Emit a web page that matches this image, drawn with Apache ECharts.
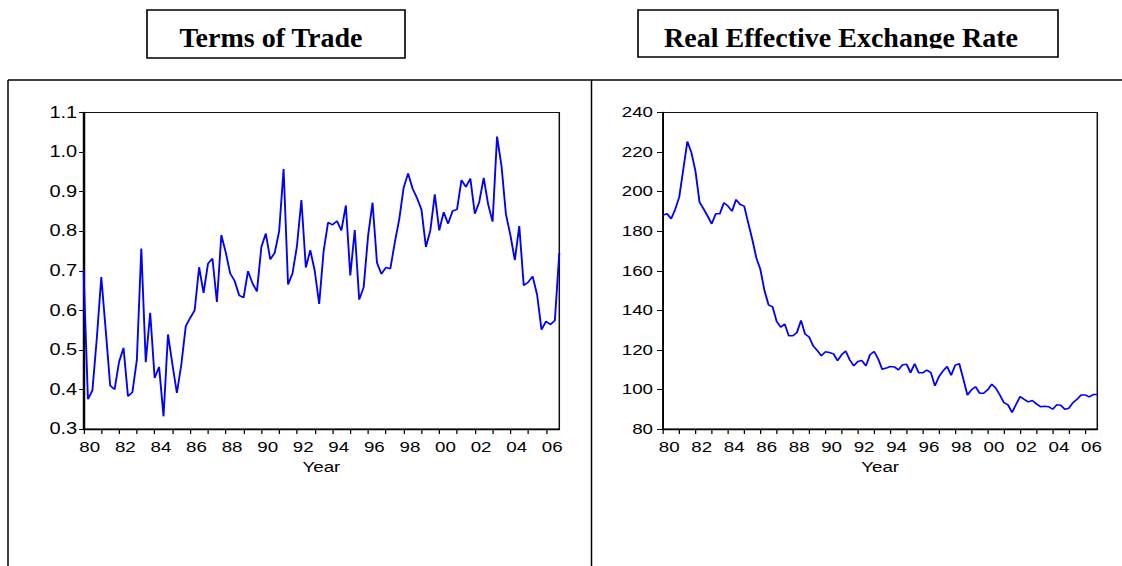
<!DOCTYPE html>
<html>
<head>
<meta charset="utf-8">
<script src="https://cdn.jsdelivr.net/npm/echarts@6/dist/echarts.min.js"></script>
<style>
  html, body { margin: 0; padding: 0; background: #fff; overflow: hidden; }
  #wrap { width: 1122px; height: 566px; overflow: hidden; position: relative; }
  #chart { position: absolute; left: 0; top: 0; height: 566px; transform-origin: 0 0; }
</style>
</head>
<body>
<div id="wrap"><div id="chart"></div></div>
<script>
// Quarterly series, 1980Q1 - 2006Q4
const startYear = 1980;
const endYear = 2006;

const termsOfTrade = [
  0.703, 0.375, 0.397, 0.530, 0.684, 0.550, 0.410, 0.400,
  0.470, 0.505, 0.383, 0.393, 0.475, 0.756, 0.469, 0.594,
  0.429, 0.457, 0.332, 0.539, 0.463, 0.391, 0.463, 0.560,
  0.581, 0.600, 0.709, 0.644, 0.718, 0.731, 0.621, 0.790,
  0.746, 0.693, 0.674, 0.638, 0.632, 0.699, 0.668, 0.648,
  0.760, 0.794, 0.729, 0.745, 0.800, 0.957, 0.665, 0.693,
  0.762, 0.879, 0.708, 0.752, 0.700, 0.616, 0.750, 0.822,
  0.816, 0.826, 0.802, 0.865, 0.688, 0.803, 0.627, 0.658,
  0.788, 0.872, 0.720, 0.692, 0.708, 0.705, 0.771, 0.830,
  0.910, 0.946, 0.908, 0.884, 0.855, 0.760, 0.802, 0.893,
  0.802, 0.848, 0.819, 0.851, 0.855, 0.929, 0.912, 0.933,
  0.844, 0.874, 0.935, 0.868, 0.824, 1.039, 0.965, 0.843,
  0.790, 0.727, 0.813, 0.663, 0.671, 0.686, 0.640, 0.551,
  0.572, 0.564, 0.574, 0.745
];

const realEffectiveRate = [
  188.1, 188.8, 186.3, 191.0, 197.2, 211.3, 225.3, 219.7,
  210.4, 194.7, 191.3, 187.6, 183.7, 188.8, 188.8, 194.4,
  192.7, 190.1, 196.0, 193.5, 192.7, 184.2, 175.8, 166.5,
  160.6, 150.0, 142.8, 141.7, 134.4, 131.5, 133.0, 127.1,
  127.1, 128.8, 134.9, 128.0, 126.5, 122.0, 119.7, 117.0,
  119.0, 118.7, 118.0, 114.6, 117.5, 119.4, 115.0, 111.9,
  114.1, 114.6, 111.9, 117.5, 119.2, 115.5, 110.2, 110.8,
  111.6, 111.4, 109.9, 112.4, 112.8, 108.5, 113.0, 108.4,
  108.4, 109.8, 108.5, 101.8, 106.5, 109.4, 111.6, 107.2,
  112.3, 113.0, 105.2, 97.2, 99.8, 101.4, 98.1, 98.1,
  99.8, 102.7, 100.6, 97.2, 93.3, 92.2, 88.3, 92.5,
  96.4, 95.0, 93.7, 94.4, 92.7, 91.3, 91.5, 91.3,
  90.0, 92.2, 92.0, 90.0, 90.5, 93.3, 95.0, 97.2,
  97.2, 96.2, 97.4, 97.4
];

const panelTitles = ['Terms of Trade', 'Real Effective Exchange Rate'];
const axisName = 'Year';

const quarters = [];
for (let y = startYear; y <= endYear; y++) {
  for (let q = 1; q <= 4; q++) quarters.push(y + 'Q' + q);
}

// The plots are drawn horizontally widened; titles keep their natural width.
const S = 1.25;
const W = 1122 / S;
const px = x => x / S;

const el = document.getElementById('chart');
el.style.width = W + 'px';
el.style.transform = 'scaleX(' + S + ')';

const chart = echarts.init(el, null, { renderer: 'svg', width: W, height: 566 });

const SANS = 'Liberation Sans, Arial, sans-serif';
const plotTop = 112.5, plotBottom = 429;

function makeX(gridIndex) {
  return {
    type: 'category',
    gridIndex,
    data: quarters,
    boundaryGap: false,
    name: axisName,
    nameLocation: 'middle',
    nameGap: 30,
    nameTextStyle: { color: '#000', fontSize: 15, fontFamily: SANS },
    axisLine: { lineStyle: { color: '#000', width: 1.4 } },
    axisTick: { interval: i => i % 4 === 0, length: 5, lineStyle: { color: '#000', width: 1 } },
    axisLabel: {
      interval: i => i % 8 === 0,
      formatter: v => v.slice(2, 4),
      color: '#000', fontSize: 15, fontFamily: SANS,
      margin: 11, padding: [0, 0, 0, 10]
    },
    splitLine: { show: false }
  };
}

function makeY(gridIndex, min, max, interval, digits, tickLen, margin, fontSize) {
  return {
    type: 'value',
    gridIndex, min, max, interval,
    axisLine: { show: true, lineStyle: { color: '#000', width: 1.4 } },
    axisTick: { show: true, length: tickLen, lineStyle: { color: '#000', width: 1 } },
    axisLabel: {
      formatter: v => v.toFixed(digits),
      color: '#000', fontSize, fontFamily: SANS, margin
    },
    splitLine: { show: false }
  };
}

function titleBox(x0, x1, y0, y1, text, cx, baseline, clipDescender) {
  const items = [
    {
      type: 'rect',
      shape: { x: px(x0), y: y0, width: px(x1 - x0), height: y1 - y0 },
      style: { fill: '#fff', stroke: '#000', lineWidth: 1.3 },
      z: 10
    },
    {
      type: 'text',
      x: px(cx), y: baseline - 9.5,
      scaleX: 1 / S,
      style: {
        text, x: 0, y: 0,
        font: 'bold 28px "Liberation Serif", "Times New Roman", serif',
        fill: '#000', textAlign: 'center', textVerticalAlign: 'middle'
      },
      z: 11
    }
  ];
  if (clipDescender) {
    items.push({
      type: 'rect',
      shape: { x: px(x0 + 2), y: baseline + 1.5, width: px(x1 - x0 - 4), height: y1 - baseline - 3 },
      style: { fill: '#fff' },
      z: 12
    });
  }
  return items;
}

const option = {
  animation: false,
  backgroundColor: '#fff',
  grid: [
    { left: px(83.5), top: plotTop, width: px(559.3 - 83.5), height: plotBottom - plotTop,
      show: true, borderColor: '#111', borderWidth: 1.2, backgroundColor: 'transparent' },
    { left: px(663), top: plotTop, width: px(1097.3 - 663), height: plotBottom - plotTop,
      show: true, borderColor: '#111', borderWidth: 1.2, backgroundColor: 'transparent' }
  ],
  xAxis: [makeX(0), makeX(1)],
  yAxis: [
    makeY(0, 0.3, 1.1, 0.1, 1, 3.5, 5, 16),
    makeY(1, 80, 240, 20, 0, 4.8, 8, 15)
  ],
  series: [
    {
      type: 'line', xAxisIndex: 0, yAxisIndex: 0, data: termsOfTrade,
      showSymbol: false, lineStyle: { color: '#0000ff', width: 1.5 }, silent: true
    },
    {
      type: 'line', xAxisIndex: 1, yAxisIndex: 1, data: realEffectiveRate,
      showSymbol: false, lineStyle: { color: '#0000ff', width: 1.5 }, silent: true
    }
  ],
  graphic: [
    // panel frames
    { type: 'line', shape: { x1: px(8), y1: 80, x2: W, y2: 80 }, style: { stroke: '#000', lineWidth: 1.4 } },
    { type: 'line', shape: { x1: px(8), y1: 80, x2: px(8), y2: 566 }, style: { stroke: '#000', lineWidth: 1.2 } },
    { type: 'line', shape: { x1: px(591.5), y1: 80, x2: px(591.5), y2: 566 }, style: { stroke: '#000', lineWidth: 1.2 } },
    ...titleBox(147, 405, 10, 58, panelTitles[0], 271, 47, false),
    ...titleBox(638, 1058, 10, 57, panelTitles[1], 841, 47, true)
  ]
};

chart.setOption(option);
</script>
</body>
</html>
